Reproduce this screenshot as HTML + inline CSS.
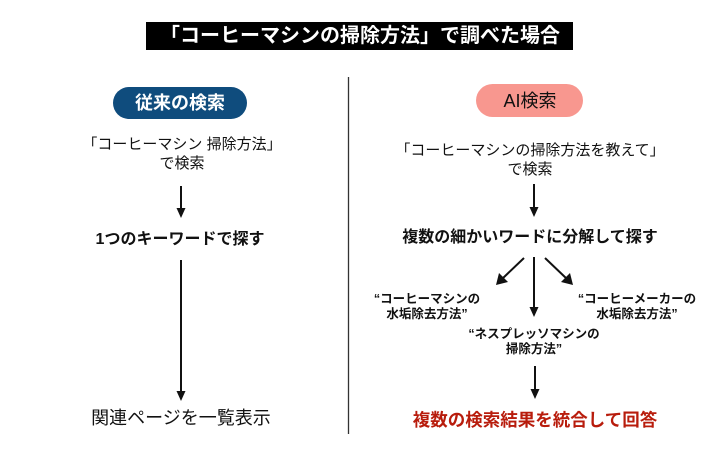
<!DOCTYPE html>
<html><head><meta charset="utf-8">
<style>
html,body{margin:0;padding:0;background:#fff;}
body{width:720px;height:450px;position:relative;overflow:hidden;font-family:"Liberation Sans","Noto Sans CJK JP",sans-serif;color:#111;}
.t{position:absolute;text-align:center;white-space:nowrap;}
svg{position:absolute;left:0;top:0;}
</style></head><body>
<svg width="720" height="450" viewBox="0 0 720 450">
  <rect x="146" y="22" width="427" height="28" fill="#000"/>
  <rect x="113" y="87" width="134" height="32" rx="16" fill="#0f4c7d"/>
  <rect x="476" y="84" width="107" height="33" rx="16.5" fill="#f8978f"/>
  <line x1="348.5" y1="77" x2="348.5" y2="434" stroke="#333" stroke-width="1.3"/>
  <g stroke="#111" stroke-width="2" fill="#111">
    <line x1="181" y1="186" x2="181" y2="210"/>
    <polygon points="176.5,208 185.5,208 181,218" stroke="none"/>
    <line x1="181" y1="260" x2="181" y2="393"/>
    <polygon points="176.5,391 185.5,391 181,401" stroke="none"/>
    <line x1="534" y1="184" x2="534" y2="209"/>
    <polygon points="529.5,207 538.5,207 534,217" stroke="none"/>
    <line x1="534" y1="257" x2="534" y2="309"/>
    <polygon points="529.5,307 538.5,307 534,317" stroke="none"/>
    <line x1="535" y1="366" x2="535" y2="391"/>
    <polygon points="530.5,389 539.5,389 535,399" stroke="none"/>
    <line x1="524" y1="258" x2="502" y2="279"/>
    <polygon points="496,285 499,273 508,282" stroke="none"/>
    <line x1="545" y1="258" x2="567" y2="279"/>
    <polygon points="573,285 561,282 570,273" stroke="none"/>
  </g>
</svg>

<div class="t" style="left:160px;top:24px;width:400px;line-height:24px;font-size:20px;font-weight:bold;color:#fff;">「コーヒーマシンの掃除方法」で調べた場合</div>

<div class="t" style="left:80px;top:91px;width:200px;line-height:24px;font-size:18px;font-weight:bold;color:#fff;">従来の検索</div>
<div class="t" style="left:430px;top:89px;width:200px;line-height:24px;font-size:18px;color:#111;">AI検索</div>

<div class="t" style="left:32px;top:135px;width:300px;line-height:19px;font-size:15px;">「コーヒーマシン 掃除方法」<br>で検索</div>
<div class="t" style="left:380px;top:141px;width:300px;line-height:19px;font-size:15px;">「コーヒーマシンの掃除方法を教えて」<br>で検索</div>

<div class="t" style="left:30px;top:229px;width:300px;line-height:22px;font-size:16px;font-weight:bold;">1つのキーワードで探す</div>
<div class="t" style="left:380px;top:227px;width:300px;line-height:22px;font-size:16px;font-weight:bold;">複数の細かいワードに分解して探す</div>

<div class="t" style="left:357px;top:292px;width:140px;line-height:15px;font-size:12.5px;font-weight:bold;">“コーヒーマシンの<br>水垢除去方法”</div>
<div class="t" style="left:564px;top:292px;width:146px;line-height:15px;font-size:12.5px;font-weight:bold;">“コーヒーメーカーの<br>水垢除去方法”</div>
<div class="t" style="left:459px;top:327px;width:150px;line-height:15px;font-size:12.5px;font-weight:bold;">“ネスプレッソマシンの<br>掃除方法”</div>

<div class="t" style="left:31px;top:406px;width:300px;line-height:24px;font-size:18px;">関連ページを一覧表示</div>
<div class="t" style="left:385px;top:408px;width:300px;line-height:24px;font-size:17.5px;font-weight:bold;color:#b81c0c;">複数の検索結果を統合して回答</div>
</body></html>
